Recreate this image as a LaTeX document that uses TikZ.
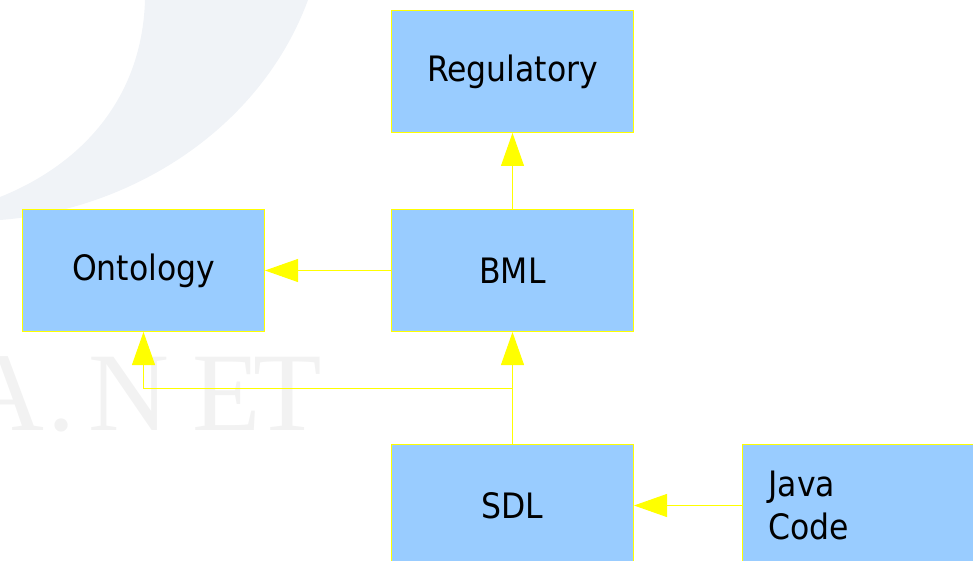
\documentclass[tikz,border=0pt]{standalone}
\usepackage{fontspec}
\setmainfont{DejaVu Sans Condensed}
\newfontfamily\wmfont{Liberation Serif}
\usetikzlibrary{arrows.meta}
\definecolor{boxblue}{HTML}{99CCFF}
\definecolor{linkyellow}{HTML}{FFFF00}
\definecolor{wmgray}{HTML}{F2F2F2}
\definecolor{wmblue}{HTML}{F0F3F7}
\tikzset{
  block/.style={draw=linkyellow, fill=boxblue, line width=1pt, inner sep=0pt,
    minimum width=242pt, minimum height=122pt, font=\fontsize{35}{43}\selectfont},
  link/.style={draw=linkyellow, line width=1pt, -{Triangle[length=33pt,width=23pt]}},
  marktext/.style={anchor=base west, text=wmgray, inner sep=0pt, font=\wmfont\fontsize{112}{112}\selectfont}
}
\begin{document}
\begin{tikzpicture}[x=1pt,y=-1pt]
  \useasboundingbox (0,0) rectangle (973,561);
  \clip (0,0) rectangle (973,561);
  % faint watermark
  \fill[wmblue] (145,0) .. controls (142,100) and (80,165) .. (0,197) -- (0,220)
    .. controls (130,210) and (260,130) .. (308,0) -- cycle;
  \foreach \ch/\x [count=\i] in {A/-37, ./47, N/88, E/192, T/253}
    \node[marktext] (mark\i) at (\x,430) {\ch};
  % boxes
  \node[block] (reg) at (512.5,71.5) {Regulatory};
  \node[block] (bml) at (512.5,270.5) {BML};
  \node[block] (onto) at (143.5,270.5) {Ontology};
  \node[block] (sdl) at (512.5,505.5) {SDL};
  \node[block, text width=190pt, align=left, inner xsep=26pt] (java) at (863.5,505.5) {Java\\Code};
  \coordinate (split) at (512.5,388.5);
  % links
  \draw[link] (bml) -- (reg);
  \draw[link] (bml) -- (onto);
  \draw[link] (sdl) -- (bml);
  \draw[link] (split) -| (onto);
  \draw[link] (java) -- (sdl);
\end{tikzpicture}
\end{document}
